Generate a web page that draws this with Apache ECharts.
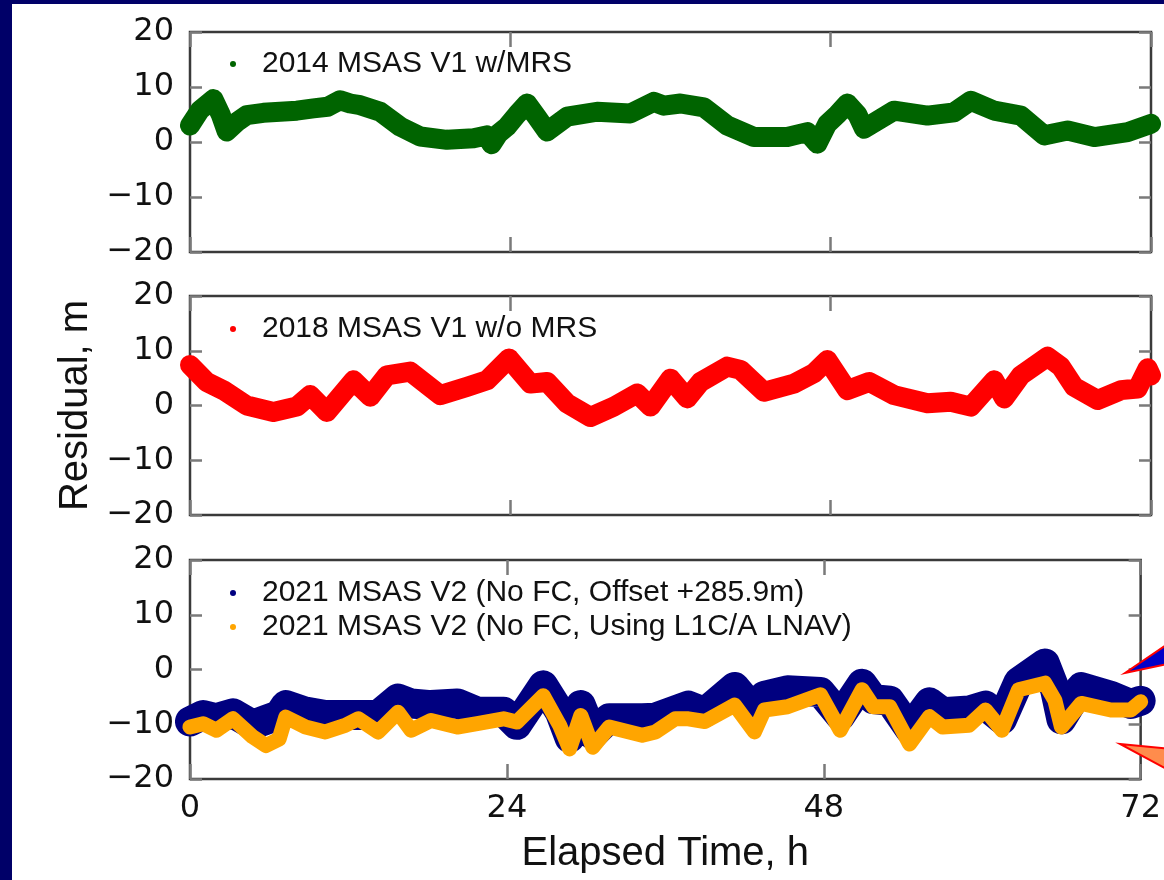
<!DOCTYPE html>
<html>
<head>
<meta charset="utf-8">
<script src="https://cdn.jsdelivr.net/npm/echarts@6/dist/echarts.min.js"></script>
<style>
  html, body { margin: 0; padding: 0; background: #000068; width: 1164px; height: 880px; overflow: hidden; }
  #panel { position: absolute; left: 12px; top: 4px; width: 1160px; height: 880px; background: #ffffff; }
  #chart { position: absolute; left: 0; top: 0; width: 1164px; height: 880px; }
</style>
</head>
<body>
<div id="panel"></div>
<div id="chart"></div>
<script>
// ---- data (hours, residual m) ----
const xTicks = [0, 24, 48, 72];
const yTicks = [-20, -10, 0, 10, 20];
const seriesNames = [
  '2014 MSAS V1 w/MRS',
  '2018 MSAS V1 w/o MRS',
  '2021 MSAS V2 (No FC, Offset +285.9m)',
  '2021 MSAS V2 (No FC, Using L1C/A LNAV)'
];
const green2014 = [[0,3],[0.75,5.8],[1.75,7.8],[2.3,5],[2.75,1.9],[3.5,3.6],[4.25,4.9],[5.5,5.3],[6.75,5.5],[8,5.7],[9.25,6.1],[10.3,6.4],[11.25,7.6],[12,7],[12.75,6.7],[14.25,5.5],[15.75,2.8],[17.25,1.0],[19.25,0.4],[21.25,0.7],[22.2,1.2],[22.6,-0.4],[23.1,1.5],[23.75,2.8],[24.5,5],[25.25,7],[26,4.5],[26.75,1.9],[28.25,4.6],[30.5,5.5],[33,5.2],[34.75,7.3],[35.5,6.6],[36.75,7.0],[38.5,6.3],[40.25,3.0],[42.25,0.9],[44.75,0.9],[46.25,1.8],[47,-0.3],[47.75,3.3],[48.5,5],[49.25,7.0],[50,5],[50.5,2.4],[52.75,5.7],[55.25,4.8],[57.25,5.4],[58.5,7.5],[60.25,5.7],[62.25,4.8],[64,1.2],[65.75,2.1],[67.75,0.9],[70.25,1.8],[72,3.3]];
const red2018 = [[0,7.4],[1.25,4.3],[2.5,2.8],[4.25,0],[6.25,-1.2],[8,-0.2],[9,1.9],[10.25,-1.2],[12.25,4.6],[13.5,1.6],[14.75,5.5],[16.5,6.2],[18.75,1.9],[20.75,3.4],[22.25,4.6],[23.9,8.6],[25.5,4.0],[26.75,4.3],[28.25,0.4],[30,-2.1],[31.75,-0.2],[33.5,2.2],[34.5,-0.2],[36,4.9],[37.25,1.3],[38.25,4.3],[40.25,7.1],[41.25,6.5],[43,2.5],[45.25,4.0],[46.75,5.9],[47.75,8.3],[49.25,2.8],[50.9,4.3],[52.75,1.9],[55.25,0.4],[57,0.7],[58.5,-0.2],[60.25,4.6],[61,1.3],[62.25,5.5],[64.25,8.9],[65.25,7.1],[66.25,3.4],[68,1.0],[69.75,2.8],[71,3.1],[71.75,6.8],[72,5.5]];
const blue2021 = [[0,-9.5],[1,-8.3],[2,-8.9],[3.25,-8.0],[4.75,-10.1],[5.75,-9.2],[6.75,-8.3],[7.25,-6.5],[8.75,-7.7],[10.25,-8.3],[11.75,-8.3],[12.75,-8.3],[14.25,-8.3],[15.75,-5.3],[16.75,-6.2],[18.25,-6.5],[20.25,-6.2],[21.75,-7.7],[23.75,-7.7],[24.75,-10.1],[26.75,-2.9],[28,-7.7],[28.75,-12.5],[29.6,-6.5],[30.5,-11.9],[31.75,-8.9],[34.25,-8.9],[35.25,-8.8],[37.75,-6.6],[39,-7.8],[41.25,-3.2],[42.75,-7.5],[43.5,-4.8],[45.25,-3.8],[47.75,-4.1],[49.25,-8.5],[50.9,-2.6],[51.75,-5.4],[53,-5.7],[54.5,-10.9],[56,-6.0],[57,-7.8],[59,-7.5],[60.25,-6.6],[61.5,-9.1],[62.75,-2.3],[64.75,1.1],[65.5,-3.5],[66,-9.1],[67.5,-3.2],[69.75,-4.8],[71.25,-6.3],[72,-5.7]];
const orange2021 = [[0,-10.5],[1,-9.9],[2,-11.1],[3.25,-9],[4.75,-12.3],[5.75,-13.9],[6.75,-12.7],[7.25,-8.7],[8.75,-10.5],[10.25,-11.4],[11.75,-10.2],[12.75,-9],[14.25,-11.4],[15.75,-7.8],[16.75,-11.1],[18.25,-9.3],[20.25,-10.5],[21.75,-9.9],[23.75,-9],[24.75,-9.6],[26.75,-4.8],[28,-10.2],[28.75,-14.5],[29.6,-8.4],[30.5,-14.2],[31.75,-10.5],[34.25,-12],[35.25,-11.4],[36.75,-9],[37.75,-9],[39,-9.5],[41.25,-6.5],[42.75,-11.4],[43.5,-7.4],[45.25,-6.8],[47.75,-4.6],[49.25,-11.1],[50.9,-3.7],[51.75,-6.8],[53,-6.8],[54.5,-13.6],[56,-8.6],[57,-10.5],[59,-10.2],[60.25,-7.4],[61.5,-11.1],[62.75,-3.7],[64.75,-2.5],[65.5,-5.6],[66,-10.5],[67.5,-6.2],[69.75,-7.4],[71.25,-7.4],[72,-5.9]];

const chart = echarts.init(document.getElementById('chart'), null, { renderer: 'canvas' });

const grids = [
  { left: 190, top: 32, width: 961, height: 220 },
  { left: 190, top: 296, width: 961, height: 219 },
  { left: 190, top: 560, width: 961, height: 219 }
];
const xTickStyle = { show: true, inside: true, length: 15, lineStyle: { color: '#7a7a7a', width: 2.5 } };
const yTickStyle = { show: true, inside: true, length: 12, lineStyle: { color: '#7a7a7a', width: 2.5 } };
const labelFont = { fontFamily: 'DejaVu Sans', fontSize: 32, color: '#111' };

const xAxes = [], yAxes = [];
grids.forEach((g, i) => {
  const isLast = i === grids.length - 1;
  xAxes.push({
    type: 'value', gridIndex: i, position: 'bottom',
    min: xTicks[0], max: xTicks[xTicks.length - 1], interval: 24,
    axisLine: { show: false, onZero: false }, axisTick: xTickStyle, splitLine: { show: false },
    axisLabel: Object.assign({ show: isLast, margin: 14, showMaxLabel: true, showMinLabel: true }, labelFont),
    name: isLast ? 'Elapsed Time, h' : '', nameLocation: 'middle', nameGap: 55,
    nameTextStyle: { fontFamily: 'Liberation Sans', fontSize: 40, color: '#111' }
  });
  xAxes.push({
    type: 'value', gridIndex: i, position: 'top',
    min: xTicks[0], max: xTicks[xTicks.length - 1], interval: 24,
    axisLine: { show: false, onZero: false }, axisTick: xTickStyle, splitLine: { show: false },
    axisLabel: { show: false }
  });
  yAxes.push({
    type: 'value', gridIndex: i, position: 'left',
    min: yTicks[0], max: yTicks[yTicks.length - 1], interval: 10,
    axisLine: { show: false, onZero: false }, axisTick: yTickStyle, splitLine: { show: false },
    axisLabel: Object.assign({ margin: 16, formatter: v => String(v).replace('-', '\u2212') }, labelFont),
    name: i === 1 ? 'Residual, m' : '', nameLocation: 'middle', nameGap: 94, nameRotate: 90,
    nameTextStyle: { fontFamily: 'Liberation Sans', fontSize: 40, color: '#111' }
  });
  yAxes.push({
    type: 'value', gridIndex: i, position: 'right',
    min: yTicks[0], max: yTicks[yTicks.length - 1], interval: 10,
    axisLine: { show: false, onZero: false }, axisTick: yTickStyle, splitLine: { show: false },
    axisLabel: { show: false }
  });
});

const legendText = { fontFamily: 'Liberation Sans', fontSize: 30, color: '#111', lineHeight: 30, padding: [0, 0, 0, 21] };
function legendAt(names, top) {
  return { data: names, left: 230, top: top, orient: 'vertical', icon: 'circle',
    itemWidth: 6, itemHeight: 6, itemGap: 4, padding: 0, selectedMode: false, textStyle: legendText };
}

function lineSeries(name, data, idx, color, width, z) {
  return {
    name: name, type: 'line', data: data, xAxisIndex: idx * 2, yAxisIndex: idx * 2,
    showSymbol: false, symbol: 'circle', color: color, z: z,
    lineStyle: { color: color, width: width, cap: 'round', join: 'round' },
    clip: true
  };
}

chart.setOption({
  animation: false,
  grid: grids.map(g => Object.assign({ show: true, borderColor: '#3a3a3a', borderWidth: 2.5, backgroundColor: '#fff' }, g)),
  xAxis: xAxes,
  yAxis: yAxes,
  legend: [
    legendAt([seriesNames[0]], 49),
    legendAt([seriesNames[1]], 314),
    legendAt([seriesNames[2], seriesNames[3]], 578)
  ],
  series: [
    lineSeries(seriesNames[0], green2014, 0, '#006400', 20, 2),
    lineSeries(seriesNames[1], red2018, 1, '#ff0000', 20, 2),
    lineSeries(seriesNames[2], blue2021, 2, '#000080', 30, 2),
    lineSeries(seriesNames[3], orange2021, 2, '#ffa500', 15, 3)
  ],
  graphic: [
    { type: 'polygon', z: 100, shape: { points: [[1125, 673], [1172, 641], [1172, 663]] },
      style: { fill: '#0000c8', stroke: '#ff0000', lineWidth: 2 } },
    { type: 'polygon', z: 100, shape: { points: [[1120, 744], [1172, 749], [1172, 772]] },
      style: { fill: '#ff8c4c', stroke: '#ff0000', lineWidth: 2 } }
  ]
});
</script>
</body>
</html>
